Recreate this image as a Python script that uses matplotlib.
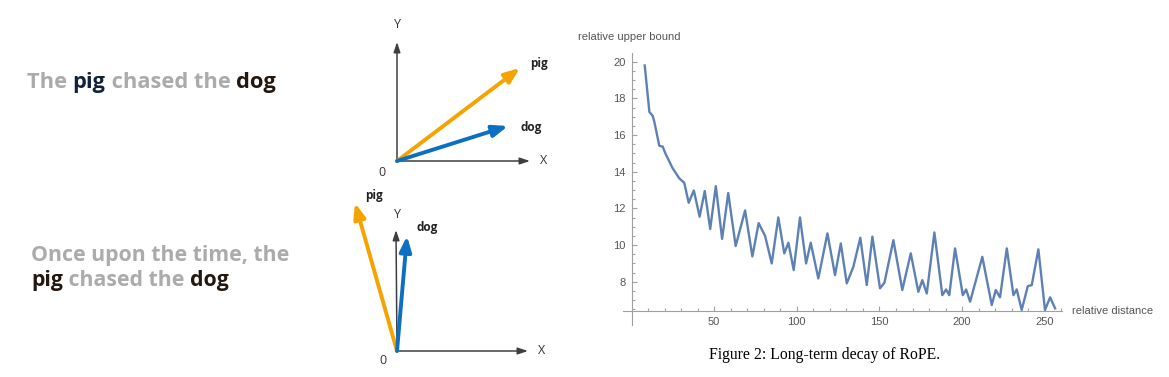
import matplotlib
matplotlib.use("Agg")
import matplotlib.pyplot as plt
from matplotlib.ticker import FixedLocator

# long-term decay curve (peaks / troughs / bends)
dist = [8, 10.8, 12.8, 13.8, 16.8, 18.9, 20.5, 24.9, 28.9, 31.9,
        34.6, 37.7, 41.2, 44.3, 47.6, 51.0, 54.8, 58.5, 63.0, 68.7,
        73.1, 76.9, 80.8, 84.8, 88.8, 92.4, 94.9, 98.1, 101.9, 105.6,
        108.4, 113.0, 118.5, 123.1, 126.6, 130.2, 134.2, 138.4, 142.3, 145.7,
        150.3, 153.0, 158.4, 163.8, 168.9, 173.5, 175.9, 178.6, 183.2, 188.0,
        190.3, 192.2, 195.7, 200.4, 202.4, 204.8, 212.2, 217.9, 220.3, 222.9,
        227.0, 231.0, 233.0, 236.0, 239.7, 242.1, 246.1, 250.1, 253.2, 256.2]
bound = [19.8, 17.27, 17.05, 16.73, 15.42, 15.37, 15.0, 14.19, 13.64, 13.4,
         12.31, 12.98, 11.55, 12.95, 10.88, 13.22, 10.34, 12.84, 9.95, 11.89,
         9.38, 11.2, 10.5, 9.0, 11.51, 9.55, 10.13, 8.64, 11.51, 9.0,
         10.13, 8.18, 10.64, 8.36, 10.09, 7.91, 8.82, 10.4, 7.82, 10.46,
         7.64, 7.95, 10.27, 7.55, 9.55, 7.45, 8.09, 7.36, 10.69, 7.27,
         7.58, 7.27, 9.82, 7.27, 7.58, 6.91, 9.36, 6.73, 7.55, 7.15,
         9.82, 7.27, 7.58, 6.46, 7.76, 7.82, 9.77, 6.46, 7.15, 6.55]

x_major = [50, 100, 150, 200, 250]
y_major = [8, 10, 12, 14, 16, 18, 20]

# sentences on the left, split where the colour changes
sent_top = [["The ", "pig", " chased the ", "dog"]]
sent_bottom = [["Once upon the time, the"], ["pig", " chased the ", "dog"]]

# vector diagrams: origin and tips in figure pixels
diag_top = {"origin": (397, 161), "x_tip": (530, 161), "y_tip": (397, 42),
            "pig": (520, 68), "dog": (508, 126)}
diag_bottom = {"origin": (397, 351), "x_tip": (528, 351), "y_tip": (396, 230),
               "pig": (355, 203), "dog": (407, 236)}

GRAY = "#ababab"
NAVY = "#10233a"
BROWN = "#24170e"
ORANGE = "#f5a300"
BLUE = "#0b6fc2"
AXC = "#3f3f3f"
FONT = "Open Sans"

fig = plt.figure(figsize=(11.69, 3.77), dpi=100)
ax0 = fig.add_axes([0, 0, 1, 1])
ax0.set_xlim(0, 1169)
ax0.set_ylim(377, 0)
ax0.axis("off")

renderer = fig.canvas.get_renderer()


def fit_size(text, width, size=16):
    t = ax0.text(0, 0, text, fontsize=size, fontweight="bold", family=FONT)
    w = t.get_window_extent(renderer).width
    t.remove()
    return size * width / w


def draw_line_of_words(words, colors, x, y, size):
    for w, c in zip(words, colors):
        t = ax0.text(x, y, w, fontsize=size, fontweight="bold", color=c,
                     family=FONT, va="baseline", ha="left")
        x += t.get_window_extent(renderer).width


s1 = fit_size("".join(sent_top[0]), 249)
s2 = fit_size("".join(sent_bottom[0]), 259)
draw_line_of_words(sent_top[0], [GRAY, NAVY, GRAY, BROWN], 27, 88, s1)
draw_line_of_words(sent_bottom[0], [GRAY], 31, 261, s2)
draw_line_of_words(sent_bottom[1], [BROWN, GRAY, BROWN, NAVY], 31, 286, s2)


def arrow(a, b, color, lw, ms, hl, hw):
    ax0.annotate("", xy=b, xytext=a,
                 arrowprops=dict(arrowstyle=f"-|>,head_length={hl},head_width={hw}",
                                 color=color, lw=lw, shrinkA=0, shrinkB=0,
                                 mutation_scale=ms))


def diagram(d, pig_lab, dog_lab, y_lab, x_lab, zero_lab):
    o = d["origin"]
    arrow(o, d["x_tip"], AXC, 1.1, 10, 0.6, 0.2)
    arrow(o, d["y_tip"], AXC, 1.1, 10, 0.6, 0.2)
    arrow(o, d["pig"], ORANGE, 2.8, 10, 0.9, 0.35)
    arrow(o, d["dog"], BLUE, 2.8, 10, 0.9, 0.35)
    for pos, s in [(pig_lab, "pig"), (dog_lab, "dog")]:
        ax0.text(*pos, s, fontsize=8.5, fontweight="bold", color="#222222",
                 family=FONT, ha="center", va="center")
    for pos, s in [(y_lab, "Y"), (x_lab, "X"), (zero_lab, "0")]:
        ax0.text(*pos, s, fontsize=9, color="#333333", family=FONT,
                 ha="center", va="center")


diagram(diag_top, (539, 63), (531, 127), (397, 25), (544, 161), (382, 172))
diagram(diag_bottom, (374, 195), (427, 227), (397, 215), (542, 351), (383, 360))

# RoPE decay plot
ax = fig.add_axes([0.533, 0.1379, 0.3752, 0.7215])
ax.plot(dist, bound, color="#5e81b5", lw=1.7, solid_joinstyle="round")
ax.set_xlim(-5.1, 260.2)
ax.set_ylim(5.64, 20.48)
for s in ["top", "right"]:
    ax.spines[s].set_visible(False)
ax.spines["left"].set_position(("data", 0))
ax.spines["bottom"].set_position(("data", 6.4))
for s in ["left", "bottom"]:
    ax.spines[s].set_color("#a0a0a0")
    ax.spines[s].set_linewidth(0.8)
ax.xaxis.set_major_locator(FixedLocator(x_major))
ax.xaxis.set_minor_locator(FixedLocator(list(range(10, 261, 10))))
ax.yaxis.set_major_locator(FixedLocator(y_major))
ax.yaxis.set_minor_locator(FixedLocator([v / 2 for v in range(13, 41)]))
ax.tick_params(which="both", direction="in", color="#a0a0a0", width=0.8,
               labelcolor="#555555", labelsize=8)
ax.tick_params(which="major", length=3.5)
ax.tick_params(which="minor", length=2)
ax.tick_params(axis="x", pad=4)
ax.tick_params(axis="y", pad=4)
for lab in ax.get_xticklabels() + ax.get_yticklabels():
    lab.set_family("Liberation Sans")
ax.patch.set_alpha(0)

fig.text(578 / 1169, 1 - 37 / 377, "relative upper bound", fontsize=8,
         color="#555555", family="Liberation Sans", ha="left", va="center")
fig.text(1072 / 1169, 1 - 311 / 377, "relative distance", fontsize=8,
         color="#555555", family="Liberation Sans", ha="left", va="center")
fig.text(825 / 1169, 1 - 355 / 377, "Figure 2: Long-term decay of RoPE.",
         fontsize=11.3, color="black", family="Liberation Serif",
         ha="center", va="center")

fig.savefig("out.png", dpi=100)
